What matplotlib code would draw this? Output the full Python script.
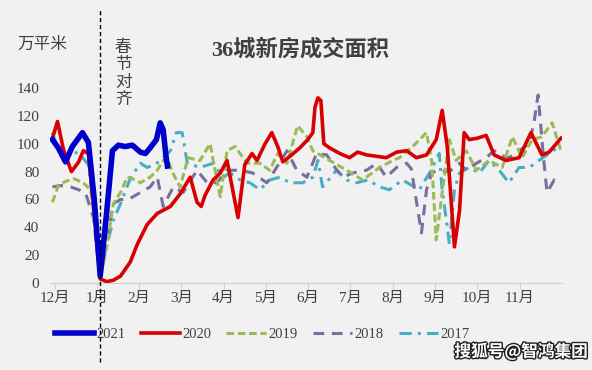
import matplotlib
matplotlib.use("Agg")
import matplotlib.pyplot as plt
import matplotlib.transforms as mtransforms
import matplotlib.patheffects as pe

plt.rcParams['font.family'] = ['Liberation Serif', 'Noto Sans CJK SC']

# x 轴位置以“月”为单位: 0 = 12月, 1 = 1月, ... 11 = 11月
months = ['12月', '1月', '2月', '3月', '4月', '5月', '6月', '7月', '8月', '9月', '10月', '11月']

x_2021 = [-0.05, 0.09, 0.26, 0.42, 0.66, 0.80, 0.94, 1.08, 1.23, 1.37, 1.51, 1.67, 1.84,
          2.03, 2.15, 2.26, 2.41, 2.50, 2.57, 2.64, 2.67]
y_2021 = [103, 97, 87, 98, 108, 101, 60, 5, 50, 95, 99, 98, 99,
          94, 93, 97, 103, 115, 110, 90, 84]

x_2020 = [-0.05, 0.07, 0.21, 0.40, 0.57, 0.68, 0.80, 0.94, 1.08, 1.23, 1.39, 1.56, 1.79,
          1.96, 2.19, 2.43, 2.74, 2.97, 3.21, 3.37, 3.47, 3.56, 3.75, 3.92, 4.08, 4.34,
          4.50, 4.67, 4.79, 4.98, 5.14, 5.28, 5.40, 5.57, 5.80, 5.99, 6.11, 6.16, 6.23,
          6.30, 6.37, 6.51, 6.75, 6.98, 7.17, 7.38, 7.62, 7.85, 8.09, 8.33, 8.56, 8.80,
          9.03, 9.17, 9.29, 9.46, 9.58, 9.69, 9.81, 10.00, 10.21, 10.40, 10.68, 10.99,
          11.27, 11.53, 11.70, 11.98]
y_2020 = [104, 116, 96, 80, 87, 95, 93, 50, 3, 1, 2, 5, 15,
          28, 42, 50, 55, 64, 76, 58, 55, 63, 74, 79, 88, 47,
          85, 93, 88, 100, 108, 98, 87, 91, 97, 103, 108, 126, 133,
          131, 100, 97, 93, 90, 94, 92, 91, 90, 94, 95, 90, 92,
          103, 124, 98, 26, 52, 108, 103, 104, 106, 92, 88, 90,
          108, 92, 94, 104]

x_2019 = [-0.05, 0.09, 0.26, 0.45, 0.68, 0.85, 0.97, 1.08, 1.23, 1.39, 1.56, 1.72, 1.91,
          2.03, 2.26, 2.43, 2.57, 2.67, 2.78, 2.97, 3.16, 3.44, 3.68, 3.84, 3.92, 4.08,
          4.27, 4.55, 4.86, 5.09, 5.28, 5.50, 5.75, 5.97, 6.11, 6.51, 6.91, 7.29, 7.69,
          8.00, 8.16, 8.47, 8.80, 8.92, 9.03, 9.17, 9.34, 9.50, 9.74, 9.98, 10.28, 10.59,
          10.83, 11.06, 11.30, 11.53, 11.77, 11.98]
y_2019 = [58, 70, 73, 75, 72, 67, 40, 4, 25, 57, 65, 76, 74,
          72, 76, 81, 88, 90, 80, 69, 90, 88, 100, 74, 62, 95,
          98, 86, 86, 81, 93, 86, 113, 105, 95, 88, 81, 74, 83,
          88, 90, 98, 108, 88, 31, 65, 103, 88, 95, 81, 88, 83,
          105, 90, 103, 105, 115, 95]

x_2018 = [-0.05, 0.14, 0.38, 0.57, 0.73, 0.92, 1.08, 1.23, 1.39, 1.56, 1.72, 1.86, 2.03,
          2.26, 2.43, 2.57, 2.81, 3.04, 3.37, 3.61, 3.84, 4.08, 4.39, 4.69, 5.02, 5.17,
          5.50, 5.73, 5.97, 6.20, 6.44, 6.63, 6.82, 7.05, 7.38, 7.62, 7.85, 8.09, 8.33,
          8.44, 8.58, 8.68, 8.80, 8.92, 9.06, 9.34, 9.58, 9.74, 9.98, 10.21, 10.40, 10.52,
          10.75, 10.99, 11.23, 11.34, 11.44, 11.51, 11.58, 11.65, 11.82, 11.93]
y_2018 = [69, 70, 69, 67, 65, 47, 2, 30, 57, 60, 60, 62, 65,
          69, 76, 55, 69, 65, 81, 72, 72, 81, 81, 79, 72, 79,
          95, 81, 76, 93, 92, 83, 76, 79, 81, 86, 76, 83, 86,
          82, 55, 36, 67, 79, 81, 80, 86, 81, 86, 90, 95, 92,
          90, 95, 100, 115, 135, 110, 86, 65, 74, 72]

x_2017 = [-0.05, 0.09, 0.26, 0.42, 0.61, 0.80, 0.97, 1.08, 1.25, 1.39, 1.56, 1.79, 2.03,
          2.19, 2.38, 2.57, 2.74, 2.88, 3.02, 3.14, 3.44, 3.75, 3.99, 4.15, 4.39, 4.62,
          4.86, 5.09, 5.33, 5.57, 5.87, 6.11, 6.23, 6.34, 6.67, 6.91, 7.15, 7.41, 7.69,
          7.92, 8.23, 8.63, 8.87, 9.10, 9.17, 9.27, 9.34, 9.46, 9.58, 9.81, 10.05, 10.28,
          10.45, 10.52, 10.75, 10.99, 11.23, 11.46, 11.70, 11.93]
y_2017 = [108, 95, 88, 95, 92, 85, 40, 3, 29, 45, 57, 75, 86,
          83, 85, 90, 95, 108, 108, 86, 83, 86, 76, 79, 74, 72,
          67, 74, 76, 72, 72, 76, 88, 69, 81, 74, 72, 74, 69,
          67, 74, 67, 79, 93, 67, 45, 28, 67, 79, 83, 79, 88,
          83, 81, 72, 83, 83, 88, 93, 98]

fig = plt.figure(figsize=(5.92, 3.70), dpi=100, facecolor='#f1f1f1')
ax = fig.add_axes([0.085, 0.235, 0.864, 0.527])
ax.set_facecolor('none')

l17, = ax.plot(x_2017, y_2017, color='#4BACC6', lw=2.2, dashes=(4, 2, 1, 2), label='2017')
l18, = ax.plot(x_2018, y_2018, color='#7A6E9E', lw=2.2, dashes=(3.5, 2.5), label='2018')
l19, = ax.plot(x_2019, y_2019, color='#9BBB59', lw=2.2, dashes=(2.5, 1.2), label='2019')
l20, = ax.plot(x_2020, y_2020, color='#D80000', lw=2.6, label='2020')
l21, = ax.plot(x_2021, y_2021, color='#0000CC', lw=4.0, label='2021')

ax.set_xlim(-0.1, 12.0)
ax.set_ylim(0, 140)
ax.set_xticks(range(len(months)))
ax.set_xticklabels(months)
ax.set_yticks(range(0, 141, 20))
ax.tick_params(axis='y', length=0, labelsize=11, labelcolor='#404040', pad=8)
ax.tick_params(axis='x', length=4, color='#d0d0d0', labelsize=11, labelcolor='#404040', pad=2)
for s in ['top', 'right', 'left']:
    ax.spines[s].set_visible(False)
ax.spines['bottom'].set_color('#d0d0d0')

# 春节对齐 虚线
trans = mtransforms.blended_transform_factory(ax.transData, ax.transAxes)
ax.plot([1.08, 1.08], [-0.405, 1.41], transform=trans, color='black', lw=1,
        dashes=(3, 2), clip_on=False, zorder=5)

fig.text(0.507, 0.865, '36城新房成交面积', ha='center', va='center', fontsize=16,
         fontweight='bold', color='#404040')
fig.text(0.03, 0.878, '万平米', ha='left', va='center', fontsize=12, color='#404040')
fig.text(0.208, 0.8, '春\n节\n对\n齐', ha='center', va='center', fontsize=12,
         color='#404040', linespacing=1.1)

fig.legend(handles=[l21, l20, l19, l18, l17], loc='center', bbox_to_anchor=(0.443, 0.095),
           ncol=5, frameon=False, fontsize=10.5, handlelength=2.7, handletextpad=0.2,
           columnspacing=1.0, labelcolor='#404040')

fig.text(0.88, 0.05, '搜狐号@智鸿集团', ha='center', va='center', fontsize=12,
         fontweight='bold', color='white', family='Noto Sans CJK SC',
         path_effects=[pe.withStroke(linewidth=2, foreground='#202020')])

fig.savefig('out.png', dpi=100, facecolor=fig.get_facecolor())
